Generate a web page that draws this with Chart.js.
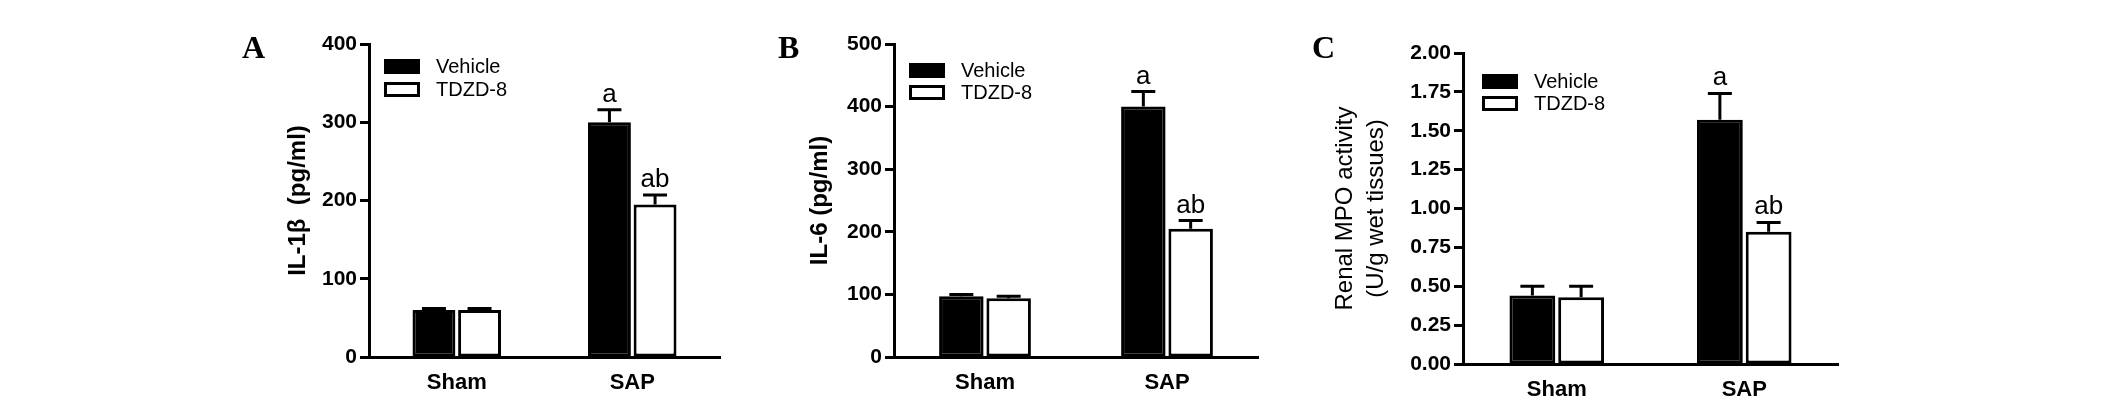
<!DOCTYPE html>
<html>
<head>
<meta charset="utf-8">
<script src="https://cdn.jsdelivr.net/npm/chart.js@4"></script>
<style>
  body { margin: 0; background: #fff; width: 2126px; height: 397px; position: relative; overflow: hidden; }
  canvas { position: absolute; top: 0; }
  .letter { position: absolute; top: 31px; font: bold 32px "Liberation Serif", "Times New Roman", serif; line-height: 32px; color: #000; }
</style>
</head>
<body>
<canvas id="chartA" width="540" height="397" style="left:200px"></canvas>
<canvas id="chartB" width="540" height="397" style="left:740px"></canvas>
<canvas id="chartC" width="580" height="397" style="left:1280px"></canvas>
<div class="letter" style="left:242px">A</div>
<div class="letter" style="left:778px">B</div>
<div class="letter" style="left:1312px">C</div>
<script>
const groups = ['Sham', 'SAP'];
const seriesNames = ['Vehicle', 'TDZD-8'];

// A: IL-1β
const il1bVehicle = [60, 300];
const il1bVehicleErr = [2, 16];
const il1bTdzd = [60, 195];
const il1bTdzdErr = [2, 12];
const il1bVehicleMarks = ['', 'a'];
const il1bTdzdMarks = ['', 'ab'];
const il1bTicks = [0, 100, 200, 300, 400];

// B: IL-6
const il6Vehicle = [97, 400];
const il6VehicleErr = [3, 24];
const il6Tdzd = [94, 205];
const il6TdzdErr = [3, 13];
const il6VehicleMarks = ['', 'a'];
const il6TdzdMarks = ['', 'ab'];
const il6Ticks = [0, 100, 200, 300, 400, 500];

// C: renal MPO
const mpoVehicle = [0.44, 1.57];
const mpoVehicleErr = [0.06, 0.17];
const mpoTdzd = [0.43, 0.85];
const mpoTdzdErr = [0.07, 0.06];
const mpoVehicleMarks = ['', 'a'];
const mpoTdzdMarks = ['', 'ab'];
const mpoTicks = [0, 0.25, 0.5, 0.75, 1.0, 1.25, 1.5, 1.75, 2.0];

Chart.defaults.font.family = '"Liberation Sans", Arial, sans-serif';
Chart.defaults.color = '#000';

// one-sided error bars plus the significance letters above them
const errorBars = {
  id: 'errorBars',
  afterDatasetsDraw(chart) {
    const ctx = chart.ctx;
    const y = chart.scales.y;
    ctx.save();
    chart.data.datasets.forEach((ds, i) => {
      chart.getDatasetMeta(i).data.forEach((bar, j) => {
        const top = y.getPixelForValue(ds.data[j]);
        const cap = y.getPixelForValue(ds.data[j] + ds.errors[j]);
        ctx.strokeStyle = '#000';
        ctx.lineWidth = 3;
        ctx.beginPath();
        ctx.moveTo(bar.x, top);
        ctx.lineTo(bar.x, cap);
        ctx.moveTo(bar.x - 12, cap);
        ctx.lineTo(bar.x + 12, cap);
        ctx.stroke();
        if (ds.marks[j]) {
          ctx.fillStyle = '#000';
          ctx.font = '26px "Liberation Sans", Arial, sans-serif';
          ctx.textAlign = 'center';
          ctx.textBaseline = 'alphabetic';
          ctx.fillText(ds.marks[j], bar.x, cap - 8);
        }
      });
    });
    ctx.restore();
  }
};

// legend inside the plot, top left
const boxLegend = {
  id: 'boxLegend',
  afterDraw(chart, args, opts) {
    const ctx = chart.ctx;
    const a = chart.chartArea;
    ctx.save();
    chart.data.datasets.forEach((ds, i) => {
      const x = a.left + opts.dx;
      const y = a.top + opts.dy + i * opts.gap;
      ctx.fillStyle = ds.backgroundColor;
      ctx.fillRect(x, y, 36, 15);
      ctx.lineWidth = 3;
      ctx.strokeStyle = '#000';
      ctx.strokeRect(x + 1.5, y + 1.5, 33, 12);
      ctx.fillStyle = '#000';
      ctx.font = '20px "Liberation Sans", Arial, sans-serif';
      ctx.textAlign = 'left';
      ctx.textBaseline = 'middle';
      ctx.fillText(ds.label, x + 52, y + 8);
    });
    ctx.restore();
  }
};

function makeChart(id, p) {
  return new Chart(document.getElementById(id), {
    type: 'bar',
    data: {
      labels: groups,
      datasets: [
        { label: seriesNames[0], data: p.vehicle, errors: p.vehicleErr, marks: p.vehicleMarks,
          backgroundColor: '#000', borderColor: '#000', borderWidth: 3, borderSkipped: false },
        { label: seriesNames[1], data: p.tdzd, errors: p.tdzdErr, marks: p.tdzdMarks,
          backgroundColor: '#fff', borderColor: '#000', borderWidth: 3, borderSkipped: false }
      ]
    },
    options: {
      responsive: false,
      animation: false,
      events: [],
      layout: { padding: { top: p.top, right: p.right, bottom: 0, left: 0 } },
      datasets: { bar: { categoryPercentage: 0.52, barPercentage: 0.94 } },
      scales: {
        x: {
          z: 1,
          afterFit: s => { s.height = p.xHeight; },
          grid: { display: false },
          border: { display: true, width: 3, color: '#000' },
          ticks: { color: '#000', font: { size: 22, weight: 'bold' }, padding: 5 }
        },
        y: {
          z: 1,
          min: 0,
          max: p.ticks[p.ticks.length - 1],
          afterBuildTicks: s => { s.ticks = p.ticks.map(v => ({ value: v })); },
          afterFit: s => { s.width = p.yWidth; },
          grid: { display: true, drawOnChartArea: false, drawTicks: true, tickLength: 9, tickWidth: 3, tickColor: '#000' },
          border: { display: true, width: 3, color: '#000' },
          ticks: { color: '#000', font: { size: 21, weight: 'bold' }, padding: 3, callback: p.fmt },
          title: {
            display: true,
            text: p.title,
            color: '#000',
            font: { size: 24, weight: p.titleWeight, lineHeight: 1.3 },
            padding: { top: p.titleOffset - 15.6, bottom: 0 }
          }
        }
      },
      plugins: {
        legend: { display: false },
        tooltip: { enabled: false },
        boxLegend: p.legend
      }
    },
    plugins: [errorBars, boxLegend]
  });
}

makeChart('chartA', {
  vehicle: il1bVehicle, vehicleErr: il1bVehicleErr, vehicleMarks: il1bVehicleMarks,
  tdzd: il1bTdzd, tdzdErr: il1bTdzdErr, tdzdMarks: il1bTdzdMarks,
  ticks: il1bTicks, fmt: v => String(v),
  title: 'IL-1β  (pg/ml)', titleWeight: 'bold', titleOffset: 98,
  top: 44, right: 20, yWidth: 169, xHeight: 40,
  legend: { dx: 15, dy: 15, gap: 23 }
});

makeChart('chartB', {
  vehicle: il6Vehicle, vehicleErr: il6VehicleErr, vehicleMarks: il6VehicleMarks,
  tdzd: il6Tdzd, tdzdErr: il6TdzdErr, tdzdMarks: il6TdzdMarks,
  ticks: il6Ticks, fmt: v => String(v),
  title: 'IL-6 (pg/ml)', titleWeight: 'bold', titleOffset: 80,
  top: 44, right: 22, yWidth: 154, xHeight: 40,
  legend: { dx: 15, dy: 19, gap: 22 }
});

makeChart('chartC', {
  vehicle: mpoVehicle, vehicleErr: mpoVehicleErr, vehicleMarks: mpoVehicleMarks,
  tdzd: mpoTdzd, tdzdErr: mpoTdzdErr, tdzdMarks: mpoTdzdMarks,
  ticks: mpoTicks, fmt: v => Number(v).toFixed(2),
  title: ['Renal MPO activity', '(U/g wet tissues)'], titleWeight: 'normal', titleOffset: 65,
  top: 53, right: 22, yWidth: 183, xHeight: 33,
  legend: { dx: 19, dy: 21, gap: 22 }
});
</script>
</body>
</html>
